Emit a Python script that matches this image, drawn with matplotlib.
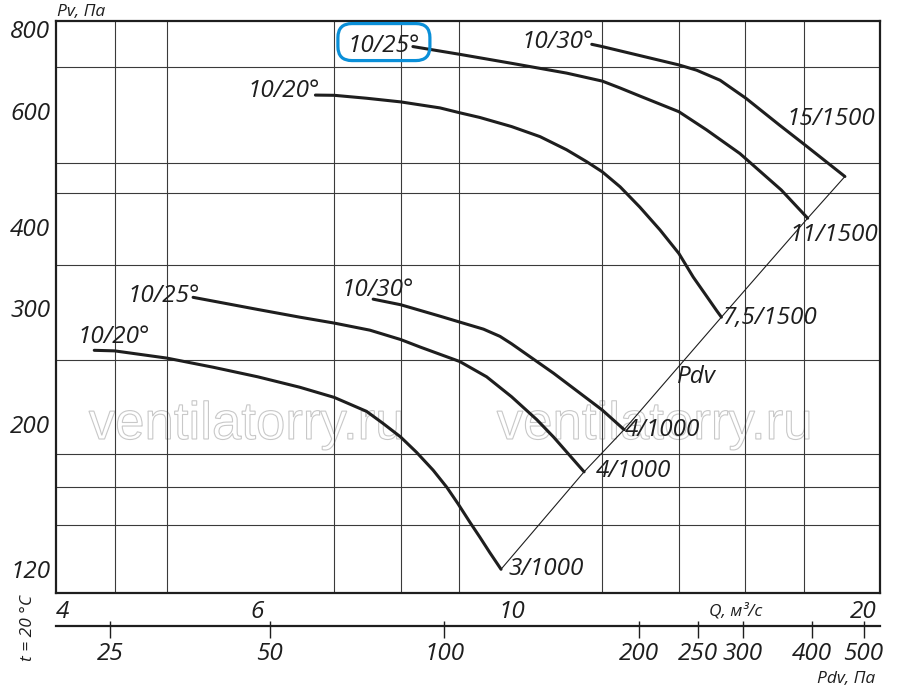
import matplotlib
matplotlib.use("Agg")
import matplotlib.pyplot as plt
from matplotlib.ticker import NullFormatter
from matplotlib.textpath import TextPath
from matplotlib.patches import PathPatch, FancyBboxPatch
from matplotlib.font_manager import FontProperties
from matplotlib.transforms import Affine2D

plt.rcParams['font.family'] = ['Open Sans', 'DejaVu Sans']
plt.rcParams['font.style'] = 'italic'

# fan curves, Q in m3/s, Pv in Pa
# lower group (1000 rpm)
q_1000_20 = [4.32, 4.5, 5.0, 5.49, 6.0, 6.53, 7.0, 7.47, 7.72, 8.0, 8.26, 8.54, 8.78,
             8.98, 9.20, 9.38, 9.57, 9.79]
p_1000_20 = [259, 258.5, 252, 244, 236, 227.5, 219.5, 209, 200.4, 191, 181, 170, 160,
             151, 141.4, 134.4, 127.3, 120]
q_1000_25 = [5.27, 6.0, 6.53, 7.0, 7.52, 8.0, 8.32, 9.01, 9.51, 10.0, 10.52, 10.88, 11.57]
p_1000_25 = [312, 299, 291, 285, 278, 269, 262, 249, 236, 220, 203, 191, 169]
q_1000_30 = [7.57, 8.0, 8.32, 8.66, 9.01, 9.45, 9.77, 10.0, 10.88, 12.0, 12.54]
p_1000_30 = [310, 304, 298, 292, 286, 279, 272, 265, 239, 210, 196]
# upper group (1500 rpm)
q_1500_20 = [6.74, 7.0, 7.47, 8.0, 8.66, 9.0, 9.38, 10.0, 10.59, 11.17, 11.63, 12.0,
             12.44, 12.94, 13.48, 14.0, 14.41, 14.80, 15.10, 15.25]
p_1500_20 = [635, 634.5, 628, 620, 607, 597, 587, 568.5, 548.7, 524, 502.5, 485,
             460, 428.5, 395.3, 364, 335, 313.4, 298, 291]
q_1500_25 = [8.20, 9.0, 10.0, 11.17, 12.0, 12.44, 12.94, 14.0, 14.8, 15.83, 17.2, 18.14]
p_1500_25 = [753, 733, 710, 686, 667, 651, 633, 599, 562, 517, 455, 412]
q_1500_30 = [11.75, 12.0, 14.0, 14.51, 15.21, 16.02, 17.15, 18.04, 19.55]
p_1500_30 = [759, 753, 706, 693, 669, 628, 571, 533, 477]

angle_labels = ['10/20°', '10/25°', '10/30°', '10/20°', '10/25°', '10/30°']
end_labels = ['3/1000', '4/1000', '4/1000', '7,5/1500', '11/1500', '15/1500']

# axes ticks and grid
q_ticks = [4, 6, 10, 20]
q_grid = [4.5, 5, 6, 7, 8, 9, 10, 12, 14, 16, 18, 20]
p_ticks = [120, 200, 300, 400, 600, 800]
p_grid = [120, 140, 160, 180, 200, 250, 300, 350, 400, 450, 500, 600, 700, 800]
# dynamic pressure scale: labels and where they sit on the Q scale
pdv_ticks = [25, 50, 100, 200, 250, 300, 400, 500]
pdv_at_q = [4.46, 6.15, 8.73, 12.91, 14.54, 15.92, 18.30, 20.30]

W, H = 900, 687
fig = plt.figure(figsize=(9, 6.87), dpi=100)
ax = fig.add_axes([56 / W, 94 / H, 824 / W, 572 / H])
ax.set_xscale('log')
ax.set_yscale('log')
ax.set_xlim(4, 20.98)
ax.set_ylim(110.4, 823.8)

ink = '#1e1e1e'
fs = 17.5

ax.set_xticks(q_ticks)
ax.set_xticklabels([str(v) for v in q_ticks])
ax.set_xticks(q_grid, minor=True)
ax.set_yticks(p_ticks)
ax.set_yticklabels([str(v) for v in p_ticks])
ax.set_yticks(p_grid, minor=True)
ax.xaxis.set_minor_formatter(NullFormatter())
ax.yaxis.set_minor_formatter(NullFormatter())
ax.tick_params(which='both', length=0)
ax.tick_params(axis='x', pad=5, labelsize=fs, labelcolor=ink)
ax.tick_params(axis='y', pad=4, labelsize=fs, labelcolor=ink)
xlabels = ax.xaxis.get_majorticklabels()
xlabels[0].set_horizontalalignment('left')
# the "20" sits a little right of its grid line in the original
xlabels[-1].set_transform(xlabels[-1].get_transform() + Affine2D().translate(7, 0))
ax.grid(which='minor', color='#3a3a3a', lw=0.8)
ax.grid(which='major', visible=False)
for s in ax.spines.values():
    s.set_linewidth(1.6)
    s.set_color(ink)

curves = [(q_1000_20, p_1000_20), (q_1000_25, p_1000_25), (q_1000_30, p_1000_30),
          (q_1500_20, p_1500_20), (q_1500_25, p_1500_25), (q_1500_30, p_1500_30)]

for q, p in curves:
    ax.plot(q, p, color=ink, lw=2.2, solid_capstyle='round',
            solid_joinstyle='round', zorder=4)

# Pdv line through the end points
ends = sorted((q[-1], p[-1]) for q, p in curves)
ax.plot([e[0] for e in ends], [e[1] for e in ends], color=ink, lw=0.8, zorder=3)

# label offsets in pixels from curve start / end
start_off = [(-17, 7), (-66, -5), (-32, 3), (-68, -2), (-65, -5), (-70, -4)]
end_off = [(7, -6), (12, -5), (1, -6), (2, -7), (-18, -23), (-58, 52)]

for i, (q, p) in enumerate(curves):
    ax.annotate(angle_labels[i], (q[0], p[0]), xytext=start_off[i],
                textcoords='offset pixels', ha='left', va='baseline',
                fontsize=fs, color=ink, zorder=5)
    ax.annotate(end_labels[i], (q[-1], p[-1]), xytext=end_off[i],
                textcoords='offset pixels', ha='left', va='baseline',
                fontsize=fs, color=ink, zorder=5)

# blue marker round the upper 10/25 label
x0, y0 = ax.transData.transform((q_1500_25[0], p_1500_25[0]))
ax.add_patch(FancyBboxPatch((-75, -14), 92, 37,
                            boxstyle='round,pad=0,rounding_size=14',
                            fc='none', ec='#0a8fd8', lw=2.3, zorder=6, clip_on=False,
                            transform=Affine2D().translate(x0, y0)))

fig.text(677 / W, 1 - 383 / H, 'Pdv', fontsize=fs, color=ink, ha='left', va='baseline')

# watermark, outlined letters only
wm_prop = FontProperties(family='Liberation Sans', style='normal')
for cx in (245, 653):
    tp = TextPath((0, 0), 'ventilatorry.ru', size=38 * 100 / 72, prop=wm_prop)
    ext = tp.get_extents()
    shift = Affine2D().translate(cx - ext.x0 - ext.width / 2, H - 439)
    ax.add_patch(PathPatch(tp, fc='none', ec='#c8c8c8', lw=0.8,
                           transform=shift, zorder=1, clip_on=False))

# axis titles
fig.text(57 / W, 1 - 16 / H, 'Pv, Па', fontsize=12.5, color=ink, ha='left', va='baseline')
fig.text(762 / W, 1 - 615 / H, 'Q, м³/с', fontsize=12.5, color=ink, ha='right', va='baseline')
fig.text(875 / W, 1 - 683 / H, 'Pdv, Па', fontsize=12.5, color=ink, ha='right', va='baseline')
fig.text(28 / W, 1 - 628 / H, 't = 20 °C', fontsize=12.5, color=ink, rotation=90,
         ha='center', va='center')

# dynamic pressure scale under the Q axis
ax2 = fig.add_axes([56 / W, (H - 625.7) / H, 824 / W, 0.002])
ax2.set_xscale('log')
ax2.set_xlim(4, 20.98)
ax2.set_yticks([])
for k in ('top', 'left', 'right'):
    ax2.spines[k].set_visible(False)
ax2.spines['bottom'].set_linewidth(1.6)
ax2.spines['bottom'].set_color(ink)
ax2.patch.set_alpha(0)
ax2.xaxis.remove_overlapping_locs = False
ax2.set_xticks(pdv_at_q)
ax2.set_xticklabels([str(v) for v in pdv_ticks])
ax2.set_xticks(pdv_at_q, minor=True)
ax2.xaxis.set_minor_formatter(NullFormatter())
ax2.tick_params(which='major', direction='out', length=8.6, width=1, color=ink,
                labelsize=fs, labelcolor=ink, pad=3)
ax2.tick_params(which='minor', direction='in', length=3.4, width=1, color=ink)

fig.savefig('out.png', dpi=100)
